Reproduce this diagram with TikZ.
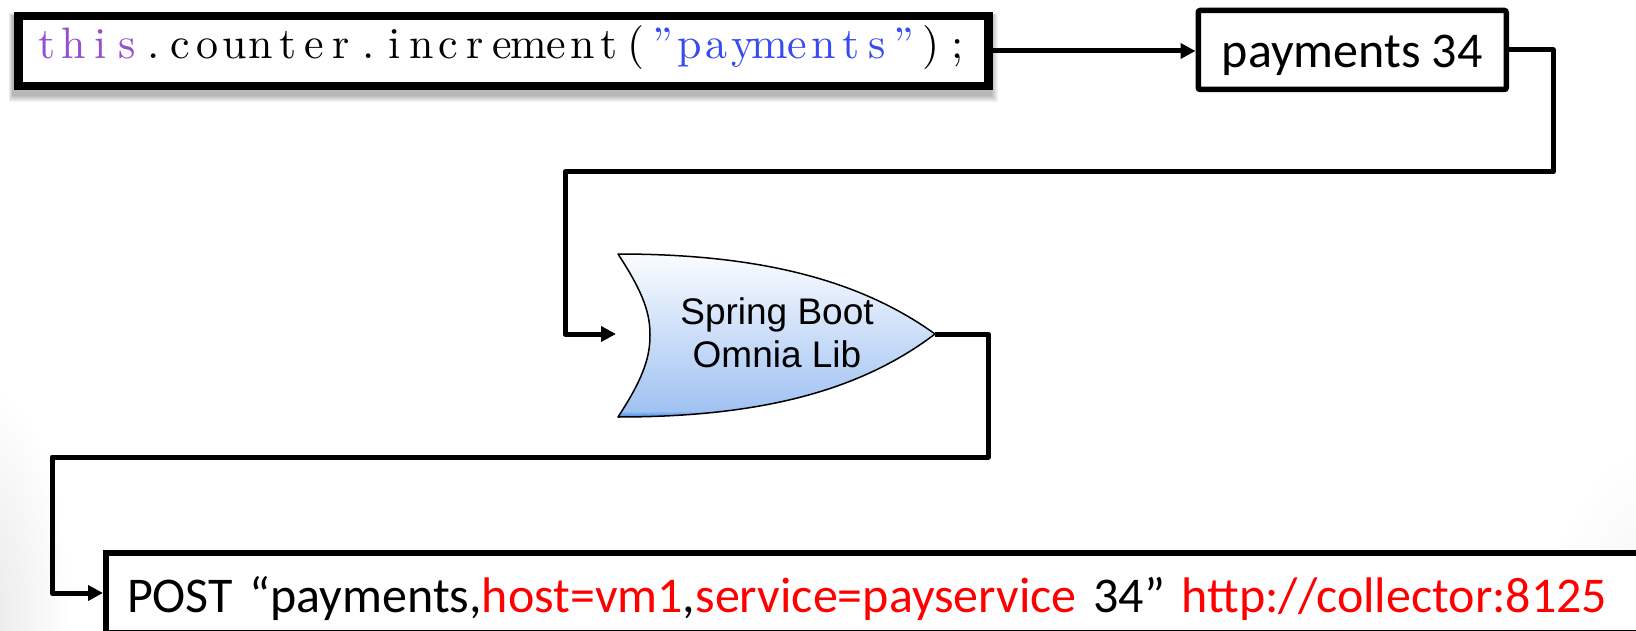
\documentclass[tikz,border=0pt]{standalone}
\usepackage{fontspec}
\newfontfamily\calibri{Carlito}
\newfontfamily\arial{Liberation Sans}
\newfontfamily\cmten[Extension=.otf]{lmroman10-regular}
\usetikzlibrary{arrows.meta}

\definecolor{kwpurple}{RGB}{150,80,205}
\definecolor{strblue}{RGB}{55,75,240}
\definecolor{gtop}{RGB}{250,252,255}
\definecolor{glow}{RGB}{160,194,242}
\definecolor{gbot}{RGB}{60,135,230}
\definecolor{tagred}{RGB}{255,0,0}

% vertical fill of the gate: dark rim at the bottom, fading to white at the top
\pgfdeclareverticalshading{gatefill}{100bp}{color(0bp)=(gbot); color(25bp)=(gbot); color(26.8bp)=(glow); color(75bp)=(gtop); color(100bp)=(gtop)}

% fixed-column setting of source code
\newlength\cw \setlength\cw{26.8pt}
\def\mono#1{\monoloop#1\relax}
\def\monoloop#1{\ifx\relax#1\else\makebox[\cw][c]{#1}\expandafter\monoloop\fi}

\tikzset{
  conn/.style={line width=5pt, line join=round, -{Triangle[length=15pt,width=15pt]}},
  codebox/.style={draw, fill=white, line width=8.5pt, inner xsep=15pt, inner ysep=0pt,
    text width=940pt, align=left, minimum height=70pt, text height=32pt, text depth=16pt,
    font=\cmten\fontsize{44}{48}\selectfont},
  paybox/.style={draw, fill=white, line width=5.5pt, rounded corners=2pt, inner sep=0pt,
    minimum width=308pt, minimum height=79pt, text height=40pt, text depth=5pt,
    font=\calibri\fontsize{50}{54}\selectfont},
  postbox/.style={draw, fill=white, line width=6pt, inner xsep=21pt, inner ysep=0pt,
    text width=1540pt, align=left, minimum height=80pt, text height=50pt, text depth=12pt,
    font=\calibri\fontsize{50}{56}\selectfont},
  gatetext/.style={align=center, inner sep=0pt, font=\arial\fontsize{37}{43}\selectfont},
}

\begin{document}
\begin{tikzpicture}[x=1pt, y=-1pt]
\useasboundingbox (0,0) rectangle (1636,631);
\clip (0,0) rectangle (1636,631);
\fill[white] (0,0) rectangle (1636,631);

% soft background tint near the lower corners
\shade[inner color=black!9, outer color=white] (-20,610) ellipse (90 and 230);
\shade[inner color=black!5, outer color=white] (1670,640) ellipse (130 and 200);

% drop shadow of the code snippet
\foreach \k in {1,...,7}
  \fill[black, opacity=0.045] ({13-0.6*\k},{16-0.4*\k}) rectangle ({991+\k},{95+\k});

\node[codebox, anchor=west] (code) at (14,51)
  {\textcolor{kwpurple}{\mono{this}}\mono{.counter.increment(}\textcolor{strblue}{\mono{”payments”}}\mono{);}};

\node[paybox, anchor=west] (pay) at (1195.5,50) {payments 34};

% library gate
\shadedraw[shading=gatefill, line width=1.5pt, line join=round]
  (618,254) .. controls (760,254) and (860,280) .. (935,334)
  .. controls (860,391) and (760,417) .. (618,417)
  .. controls (645,376) and (650,355) .. (650,335)
  .. controls (650,315) and (645,295) .. (618,254) -- cycle;
\node[gatetext] (gate) at (777,333) {Spring Boot\\Omnia Lib};
\coordinate (gin) at (616,334);
\coordinate (gout) at (935,334);

\node[postbox, anchor=west] (post) at (103,593)
  {POST “payments,\textcolor{tagred}{host=vm1},\textcolor{tagred}{service=payservice} 34” \textcolor{tagred}{http://collector:8125}};

% bends of the connectors
\coordinate (b1) at (1553,172);
\coordinate (b2) at (565,172);
\coordinate (b3) at (988,457);
\coordinate (b4) at (52,457);

\draw[conn] (code.east) -- (code.east -| pay.west);
\draw[conn] (pay.east) -| (b1) -- (b2) |- (gin);
\draw[conn] (gout) -| (b3) -- (b4) |- (post.west);
\end{tikzpicture}
\end{document}
